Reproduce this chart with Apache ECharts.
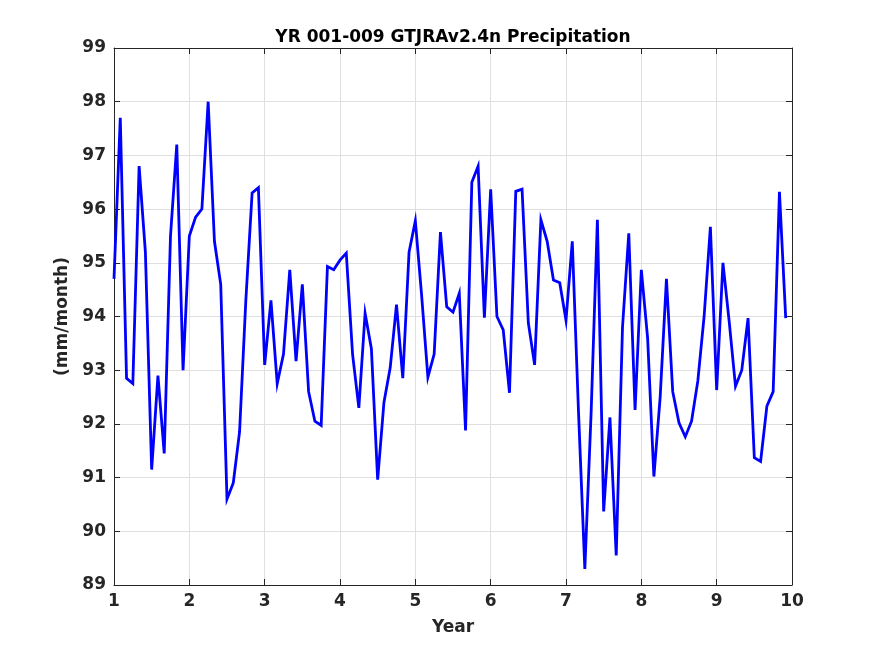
<!DOCTYPE html>
<html>
<head>
<meta charset="utf-8">
<script src="https://cdn.jsdelivr.net/npm/echarts@6/dist/echarts.min.js"></script>
<style>
  html, body { margin: 0; padding: 0; background: #fff; }
  #chart { width: 875px; height: 656px; }
</style>
</head>
<body>
<div id="chart"></div>
<script>
// monthly precipitation, years 1-9 (mm/month)
var startYear = 1;
var monthsPerYear = 12;
var precip = [
  94.7, 97.7, 92.85, 92.75, 96.8, 95.2, 91.15, 92.9, 91.45, 95.5, 97.2, 93.0,
  95.5, 95.85, 96.0, 98.0, 95.4, 94.6, 90.6, 90.9, 91.85, 94.3, 96.3, 96.4,
  93.1, 94.3, 92.75, 93.3, 94.87, 93.17, 94.6, 92.6, 92.05, 91.97, 94.93, 94.87,
  95.05, 95.18, 93.3, 92.3, 94.06, 93.4, 90.96, 92.4, 93.05, 94.22, 92.85, 95.2,
  95.78, 94.4, 92.87, 93.3, 95.57, 94.18, 94.08, 94.43, 91.88, 96.5, 96.8, 93.98,
  96.37, 94.0, 93.75, 92.58, 96.33, 96.37, 93.88, 93.1, 95.8, 95.4, 94.68, 94.63,
  93.93, 95.4, 92.2, 89.3, 92.2, 95.8, 90.37, 92.12, 89.55, 93.8, 95.55, 92.26,
  94.87, 93.6, 91.02, 92.5, 94.7, 92.6, 92.02, 91.76, 92.05, 92.8, 94.0, 95.67,
  92.63, 95.0, 93.9, 92.7, 93.0, 93.97, 91.37, 91.3, 92.33, 92.6, 96.32, 93.97
];
var xRange = [1, 10];
var yRange = [89, 99];

var ink = '#262626';
var gridColor = '#dfdfdf';
var font = 'DejaVu Sans';

var seriesData = precip.map(function(v, i) {
  return [startYear + i / monthsPerYear, v];
});

var chart = echarts.init(document.getElementById('chart'), null, { renderer: 'canvas' });

function axisBase(showLabels) {
  return {
    type: 'value',
    interval: 1,
    axisLine: { show: true, onZero: false, lineStyle: { color: ink, width: 1 } },
    axisTick: { show: true, inside: true, length: 6, lineStyle: { color: ink } },
    axisLabel: {
      show: showLabels, color: ink, fontFamily: font, fontWeight: 'bold', fontSize: 17, margin: 8
    },
    splitLine: { show: showLabels, lineStyle: { color: gridColor, width: 1 } }
  };
}

var xBottom = axisBase(true);
xBottom.min = xRange[0]; xBottom.max = xRange[1]; xBottom.position = 'bottom';
xBottom.name = 'Year'; xBottom.nameLocation = 'middle'; xBottom.nameGap = 34;
xBottom.nameTextStyle = { color: ink, fontFamily: font, fontWeight: 'bold', fontSize: 17 };
var xTop = axisBase(false);
xTop.min = xRange[0]; xTop.max = xRange[1]; xTop.position = 'top';

var yLeft = axisBase(true);
yLeft.min = yRange[0]; yLeft.max = yRange[1]; yLeft.position = 'left';
yLeft.name = '(mm/month)'; yLeft.nameLocation = 'middle'; yLeft.nameGap = 37;
yLeft.nameTextStyle = { color: ink, fontFamily: font, fontWeight: 'bold', fontSize: 17 };
var yRight = axisBase(false);
yRight.min = yRange[0]; yRight.max = yRange[1]; yRight.position = 'right';

chart.setOption({
  animation: false,
  backgroundColor: '#ffffff',
  title: {
    text: 'YR 001-009 GTJRAv2.4n Precipitation',
    left: 448, top: 24, textAlign: 'center',
    textStyle: { color: '#000', fontFamily: font, fontWeight: 'bold', fontSize: 17 }
  },
  grid: { left: 114, right: 83, top: 48, bottom: 71, containLabel: false },
  xAxis: [xBottom, xTop],
  yAxis: [yLeft, yRight],
  series: [{
    type: 'line',
    data: seriesData,
    xAxisIndex: 0,
    yAxisIndex: 0,
    showSymbol: false,
    lineStyle: { color: '#0000ff', width: 2.8, join: 'miter' },
    clip: true
  }]
});
</script>
</body>
</html>
